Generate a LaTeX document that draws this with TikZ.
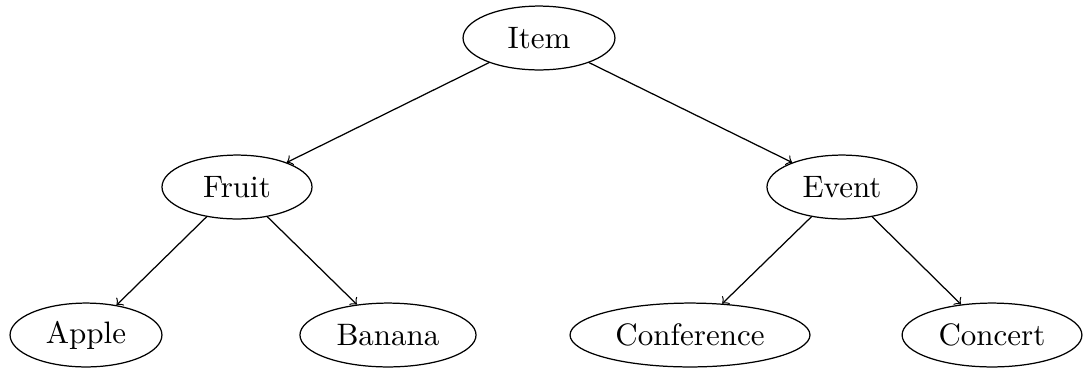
\documentclass[tikz,border=0pt]{standalone}
\usetikzlibrary{shapes.geometric}
\begin{document}
\begin{tikzpicture}[x=0.3226pt, y=-0.3226pt,
  cls/.style={draw, ellipse, inner sep=0pt, minimum height=20.6pt},
  link/.style={->}]
\useasboundingbox (0,0) rectangle (1083,371);
\node[cls, minimum width=49pt]   (item)  at (539,38)  {Item};
\node[cls, minimum width=48.4pt] (fruit) at (237,187) {Fruit};
\node[cls, minimum width=48.4pt] (event) at (842,187) {Event};
\node[cls, minimum width=49pt]   (apple) at (86,335)  {Apple};
\node[cls, minimum width=56.8pt] (banana) at (388,335) {Banana};
\node[cls, minimum width=77.4pt] (conf)  at (690,335) {Conference};
\node[cls, minimum width=58pt]   (concert) at (992,335) {Concert};
\draw[link] (item) -- (fruit);
\draw[link] (item) -- (event);
\draw[link] (fruit) -- (apple);
\draw[link] (fruit) -- (banana);
\draw[link] (event) -- (conf);
\draw[link] (event) -- (concert);
\end{tikzpicture}
\end{document}
